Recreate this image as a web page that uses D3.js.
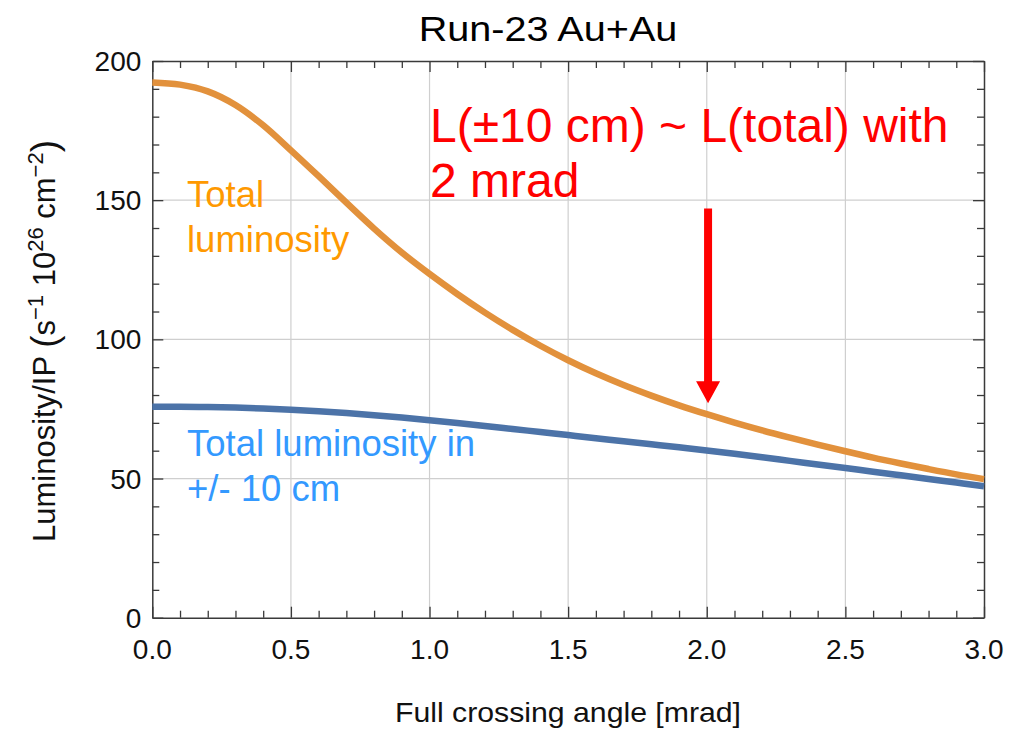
<!DOCTYPE html>
<html>
<head>
<meta charset="utf-8">
<script src="https://cdn.jsdelivr.net/npm/d3@7"></script>
<style>
  html, body { margin: 0; padding: 0; background: #fff; }
  svg { display: block; font-family: "Liberation Sans", Arial, sans-serif; }
</style>
</head>
<body>
<svg id="chart" width="1022" height="729"></svg>
<script>
// Crossing angle samples [mrad]
const angles = [0.0, 0.1, 0.2, 0.3, 0.4, 0.5, 0.6, 0.7, 0.8, 0.9, 1.0,
                1.1, 1.2, 1.3, 1.4, 1.5, 1.6, 1.7, 1.8, 1.9, 2.0,
                2.1, 2.2, 2.3, 2.4, 2.5, 2.6, 2.7, 2.8, 2.9, 3.0];

// Total luminosity per IP (s^-1 10^26 cm^-2)
const totalLumi = [192.3, 191.5, 189.1, 184.2, 176.9, 167.9, 158.6, 149.1, 139.8, 131.2, 123.5,
                   116.3, 109.6, 103.4, 97.7, 92.5, 87.8, 83.6, 79.8, 76.3, 73.1,
                   70.1, 67.3, 64.7, 62.2, 59.8, 57.5, 55.4, 53.4, 51.5, 49.8];

// Luminosity per IP within +/- 10 cm of the IP
const lumi10cm = [75.8, 75.8, 75.7, 75.5, 75.15, 74.7, 74.15, 73.5, 72.75, 71.9, 70.95,
                  69.95, 68.9, 67.8, 66.7, 65.6, 64.5, 63.4, 62.3, 61.2, 60.1,
                  58.9, 57.65, 56.35, 55.05, 53.75, 52.45, 51.15, 49.85, 48.55, 47.25];

const xTicks = [0.0, 0.5, 1.0, 1.5, 2.0, 2.5, 3.0];
const yTicks = [0, 50, 100, 150, 200];

// Arrow marking 2 mrad: [angle, start value, tip value]
const arrowAt = [2.0, 147, 77];

const svg = d3.select("#chart");
const plotLeft = 152.3, plotRight = 984, plotTop = 61, plotBottom = 617.7;

const x = d3.scaleLinear().domain([0, 3]).range([plotLeft, plotRight]);
const y = d3.scaleLinear().domain([0, 200]).range([plotBottom, plotTop]);

// Grid lines at major ticks
const grid = svg.append("g").attr("stroke", "#cfcfcf").attr("stroke-width", 1.2);
grid.selectAll("line.gx").data(xTicks.filter(d => d > 0 && d < 3)).join("line")
  .attr("class", "gx")
  .attr("x1", d => x(d)).attr("x2", d => x(d)).attr("y1", plotTop).attr("y2", plotBottom);
grid.selectAll("line.gy").data(yTicks.filter(d => d > 0 && d < 200)).join("line")
  .attr("class", "gy")
  .attr("y1", d => y(d)).attr("y2", d => y(d)).attr("x1", plotLeft).attr("x2", plotRight);

// Frame with inward ticks on all sides
const axisColor = "#3a3a3a";
const xMinor = d3.range(0, 31).map(i => i / 10);
const yMinor = d3.range(0, 21).map(i => i * 10);
const isMajorX = d => Math.abs(d * 2 - Math.round(d * 2)) < 1e-6;
const isMajorY = d => d % 50 === 0;

const axB = d3.axisBottom(x).tickValues(xMinor).tickSizeInner(0).tickSizeOuter(0).tickFormat("");
const axT = d3.axisTop(x).tickValues(xMinor).tickSizeInner(0).tickSizeOuter(0).tickFormat("");
const axL = d3.axisLeft(y).tickValues(yMinor).tickSizeInner(0).tickSizeOuter(0).tickFormat("");
const axR = d3.axisRight(y).tickValues(yMinor).tickSizeInner(0).tickSizeOuter(0).tickFormat("");

function styleAxis(g, dir, side) {
  g.select(".domain").attr("stroke", axisColor).attr("stroke-width", 1.5);
  g.selectAll(".tick line")
    .attr("stroke", axisColor).attr("stroke-width", 1.3)
    .each(function (d) {
      const major = (dir === "x" ? isMajorX(d) : isMajorY(d));
      const len = major ? 11 : 7;
      const sel = d3.select(this);
      if (dir === "x") sel.attr("y2", side === "bottom" ? -len : len);
      else sel.attr("x2", side === "left" ? len : -len);
    });
}
svg.append("g").attr("transform", `translate(0,${plotBottom})`).call(axB).call(g => styleAxis(g, "x", "bottom"));
svg.append("g").attr("transform", `translate(0,${plotTop})`).call(axT).call(g => styleAxis(g, "x", "top"));
svg.append("g").attr("transform", `translate(${plotLeft},0)`).call(axL).call(g => styleAxis(g, "y", "left"));
svg.append("g").attr("transform", `translate(${plotRight},0)`).call(axR).call(g => styleAxis(g, "y", "right"));

// Tick labels
const labelColor = "#111";
svg.append("g").selectAll("text").data(xTicks).join("text")
  .attr("x", d => x(d)).attr("y", 659)
  .attr("text-anchor", "middle").attr("font-size", 28).attr("fill", labelColor)
  .text(d => d3.format(".1f")(d));
svg.append("g").selectAll("text").data(yTicks).join("text")
  .attr("x", plotLeft - 11).attr("y", d => y(d)).attr("dy", "0.36em")
  .attr("text-anchor", "end").attr("font-size", 28).attr("fill", labelColor)
  .text(d => d);

// Curves
const pts = arr => angles.map((a, i) => [a, arr[i]]);
const line = d3.line().x(d => x(d[0])).y(d => y(d[1])).curve(d3.curveMonotoneX);
svg.append("path").datum(pts(lumi10cm))
  .attr("d", line).attr("fill", "none").attr("stroke", "#4C73A8").attr("stroke-width", 6.5);
svg.append("path").datum(pts(totalLumi))
  .attr("d", line).attr("fill", "none").attr("stroke", "#E2913C").attr("stroke-width", 6.5);

// Series labels
const orangeLbl = svg.append("text").attr("font-size", 36.5).attr("fill", "#FF9900");
orangeLbl.append("tspan").attr("x", 187).attr("y", 206.5).text("Total");
orangeLbl.append("tspan").attr("x", 187).attr("y", 251.5).text("luminosity");

const blueLbl = svg.append("text").attr("font-size", 36.5).attr("fill", "#3399FF");
blueLbl.append("tspan").attr("x", 187).attr("y", 456).text("Total luminosity in");
blueLbl.append("tspan").attr("x", 187).attr("y", 500.5).text("+/- 10 cm");

// Annotation
const note = svg.append("text").attr("font-size", 48).attr("fill", "#FF0000");
note.append("tspan").attr("x", 430).attr("y", 142).text("L(±10 cm) ~ L(total) with");
note.append("tspan").attr("x", 430).attr("y", 197).text("2 mrad");

// Arrow pointing at 2 mrad
const ax = x(arrowAt[0]) + 1.3, ay0 = y(arrowAt[1]), ayTip = y(arrowAt[2]);
const headLen = 22, headHalf = 12, shaftHalf = 4;
svg.append("path")
  .attr("d", `M${ax - shaftHalf},${ay0} L${ax + shaftHalf},${ay0} L${ax + shaftHalf},${ayTip - headLen}
    L${ax + headHalf},${ayTip - headLen} L${ax},${ayTip} L${ax - headHalf},${ayTip - headLen}
    L${ax - shaftHalf},${ayTip - headLen} Z`)
  .attr("fill", "#FF0000");

// Title
svg.append("text").attr("transform", "translate(548,41) scale(1.1,1)")
  .attr("text-anchor", "middle").attr("font-size", 36).attr("fill", "#000")
  .text("Run-23 Au+Au");

// X axis title
svg.append("text").attr("transform", "translate(568,722) scale(1.08,1)")
  .attr("text-anchor", "middle").attr("font-size", 28).attr("fill", "#111")
  .text("Full crossing angle [mrad]");

// Y axis title with superscripts and tall parentheses
const yt = svg.append("text").attr("transform", "translate(55,341) rotate(-90)")
  .attr("text-anchor", "middle").attr("font-size", 31).attr("fill", "#111");
yt.append("tspan").text("Luminosity/IP ");
yt.append("tspan").attr("font-size", 37).attr("dy", 2).text("(");
yt.append("tspan").attr("dy", -2).text("s");
yt.append("tspan").attr("font-size", 22).attr("dy", -12).text("−1");
yt.append("tspan").attr("dy", 12).text(" 10");
yt.append("tspan").attr("font-size", 22).attr("dy", -12).text("26");
yt.append("tspan").attr("dy", 12).text(" cm");
yt.append("tspan").attr("font-size", 22).attr("dy", -12).text("−2");
yt.append("tspan").attr("font-size", 37).attr("dy", 14).text(")");
</script>
</body>
</html>
